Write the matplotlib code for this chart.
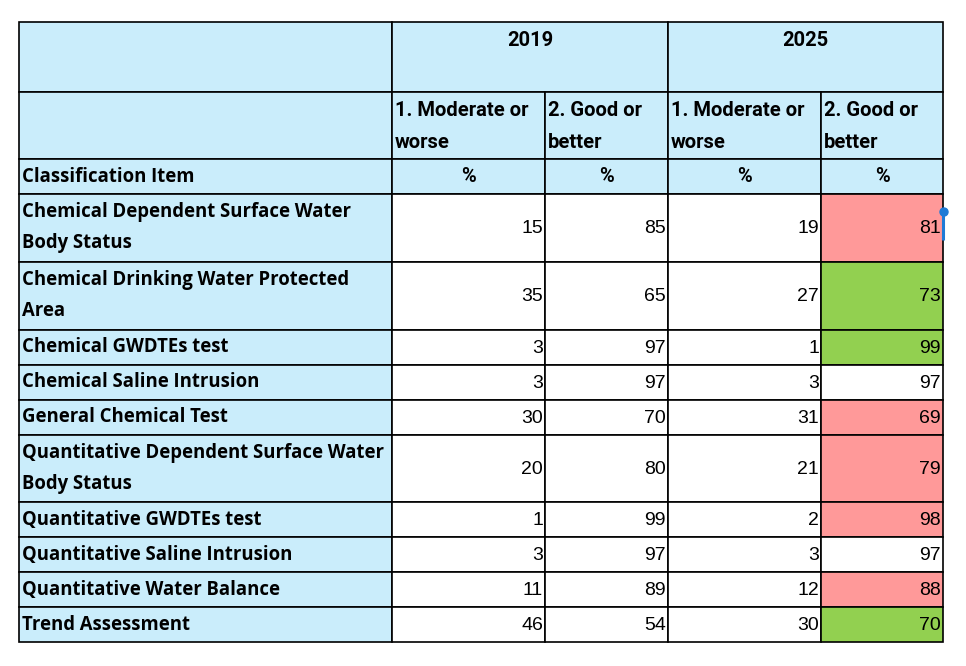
import textwrap
import matplotlib.pyplot as plt
from matplotlib.patches import Rectangle, Circle

items = ["Chemical Dependent Surface Water Body Status",
         "Chemical Drinking Water Protected Area",
         "Chemical GWDTEs test",
         "Chemical Saline Intrusion",
         "General Chemical Test",
         "Quantitative Dependent Surface Water Body Status",
         "Quantitative GWDTEs test",
         "Quantitative Saline Intrusion",
         "Quantitative Water Balance",
         "Trend Assessment"]
years = ["2019", "2025"]
classes = ["1. Moderate or\nworse", "2. Good or\nbetter"]
mod_2019 = [15, 35, 3, 3, 30, 20, 1, 3, 11, 46]
good_2019 = [85, 65, 97, 97, 70, 80, 99, 97, 89, 54]
mod_2025 = [19, 27, 1, 3, 31, 21, 2, 3, 12, 30]
good_2025 = [81, 73, 99, 97, 69, 79, 98, 97, 88, 70]

BLUE = "#caedfb"
PINK = "#ff9999"
GREEN = "#92d050"
NUM_FONT = "Liberation Sans"

# layout in pixels
col_x = [19, 392, 545, 668, 821, 943]
head_y = [22, 92, 159, 194]
row_one, row_two = 35, 67.8
line_gap = 31

fig = plt.figure(figsize=(9.66, 6.66), dpi=100)
ax = fig.add_axes([0, 0, 1, 1])
ax.set_xlim(0, 966)
ax.set_ylim(666, 0)
ax.axis("off")


def cell(x0, x1, y0, y1, color="white"):
    ax.add_patch(Rectangle((x0, y0), x1 - x0, y1 - y0, facecolor=color,
                           edgecolor="black", linewidth=1.2))


def multiline(x, yc, lines, **kw):
    n = len(lines)
    for i, ln in enumerate(lines):
        ax.text(x, yc + (i - (n - 1) / 2) * line_gap, ln, va="center", **kw)


lab_kw = dict(fontfamily="Open Sans", fontweight="bold", fontsize=13.35, color="black")
head_kw = dict(fontfamily="Roboto", fontweight="bold", fontsize=14.5, color="black")

# header rows
cell(col_x[0], col_x[1], head_y[0], head_y[1], BLUE)
for k, yr in enumerate(years):
    x0, x1 = col_x[1 + 2 * k], col_x[3 + 2 * k]
    cell(x0, x1, head_y[0], head_y[1], BLUE)
    ax.text((x0 + x1) / 2, head_y[0] + 18.5, yr, ha="center", va="center", **head_kw)
cell(col_x[0], col_x[1], head_y[1], head_y[2], BLUE)
for j in range(4):
    x0, x1 = col_x[1 + j], col_x[2 + j]
    cell(x0, x1, head_y[1], head_y[2], BLUE)
    multiline(x0 + 3, (head_y[1] + head_y[2]) / 2 + 1, classes[j % 2].split("\n"),
              ha="left", **head_kw)
cell(col_x[0], col_x[1], head_y[2], head_y[3], BLUE)
ax.text(col_x[0] + 3, (head_y[2] + head_y[3]) / 2, "Classification Item",
        ha="left", va="center", **lab_kw)
for j in range(4):
    x0, x1 = col_x[1 + j], col_x[2 + j]
    cell(x0, x1, head_y[2], head_y[3], BLUE)
    ax.text((x0 + x1) / 2, (head_y[2] + head_y[3]) / 2, "%",
            ha="center", va="center", **head_kw)

# body rows
y = head_y[3]
for i, item in enumerate(items):
    lines = textwrap.wrap(item, 36)
    h = row_two if len(lines) > 1 else row_one
    yc = y + h / 2
    cell(col_x[0], col_x[1], y, y + h, BLUE)
    multiline(col_x[0] + 3, yc, lines, ha="left", **lab_kw)
    vals = [mod_2019[i], good_2019[i], mod_2025[i], good_2025[i]]
    for j, v in enumerate(vals):
        color = "white"
        if j == 3:
            if good_2025[i] < good_2019[i]:
                color = PINK
            elif good_2025[i] > good_2019[i]:
                color = GREEN
        cell(col_x[1 + j], col_x[2 + j], y, y + h, color)
        ax.text(col_x[2 + j] - 2, yc + 1, str(v), ha="right", va="center",
                fontfamily=NUM_FONT, fontsize=14, color="black")
    y += h

# selection cursor artifact on first highlighted cell
ax.plot([943, 943], [head_y[3] + 17, head_y[3] + 46], color="#1f7ad6", lw=2.2,
        solid_capstyle="butt")
ax.add_patch(Circle((944, head_y[3] + 18), 4, color="#1f7ad6"))

fig.savefig("out.png", dpi=100, facecolor="white")
